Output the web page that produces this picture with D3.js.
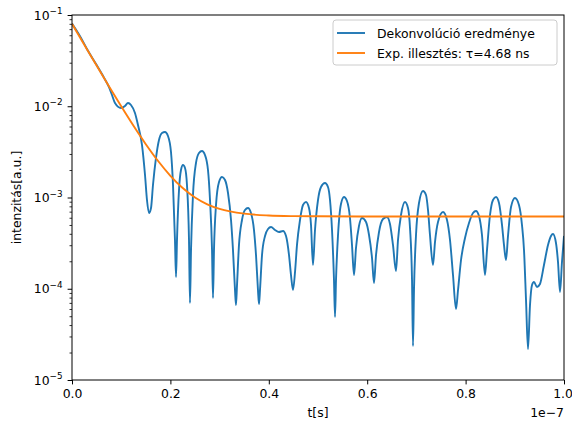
<!DOCTYPE html>
<html>
<head>
<meta charset="utf-8">
<script src="https://cdn.jsdelivr.net/npm/d3@7"></script>
<style>
  html, body { margin: 0; padding: 0; background: #fff; }
  svg { display: block; font-family: "DejaVu Sans", sans-serif; }
</style>
</head>
<body>
<svg id="chart" width="572" height="425"></svg>
<script>
// ---- data (time in ns, intensity in a.u.) ----
const blueT = [0, 1.63, 3.25, 4.88, 6.5, 7.5, 8.13, 8.74, 9.96, 10.77, 11.38, 11.99, 12.8, 13.41, 14.23, 14.84, 15.24, 15.65, 16.06, 16.46, 17.07, 17.68, 18.29, 18.9, 19.51, 20.12, 20.53, 20.93, 21.14, 21.34, 21.75, 22.15, 22.56, 22.97, 23.37, 23.78, 23.98, 24.19, 24.59, 25.2, 25.81, 26.42, 27.03, 27.64, 28.05, 28.46, 28.66, 28.86, 29.27, 29.88, 30.49, 31.1, 31.71, 32.32, 32.72, 33.13, 33.33, 33.54, 33.94, 34.55, 35.16, 35.77, 36.38, 36.99, 37.4, 37.8, 38.01, 38.21, 38.62, 39.23, 39.84, 40.45, 41.26, 42.07, 42.89, 43.5, 44.11, 44.51, 44.92, 45.33, 45.73, 46.34, 46.95, 47.56, 48.17, 48.58, 48.98, 49.39, 50.0, 50.61, 51.42, 52.03, 52.44, 52.85, 53.25, 53.46, 53.66, 54.07, 54.67, 55.28, 55.89, 56.5, 56.91, 57.32, 57.72, 58.33, 58.94, 59.76, 60.37, 60.98, 61.38, 61.79, 62.4, 63.21, 64.02, 64.63, 65.24, 65.85, 66.26, 66.87, 67.68, 68.29, 68.7, 69.11, 69.31, 69.51, 69.92, 70.53, 71.34, 71.95, 72.36, 72.76, 73.37, 73.78, 74.39, 75.41, 76.22, 76.83, 77.44, 78.05, 78.46, 79.07, 79.88, 80.69, 81.5, 82.11, 82.72, 83.33, 83.94, 84.35, 84.96, 85.57, 86.18, 86.79, 87.4, 87.8, 88.21, 88.62, 89.23, 90.04, 90.85, 91.46, 91.87, 92.28, 92.68, 93.09, 93.5, 93.9, 94.51, 95.12, 95.93, 96.75, 97.36, 97.76, 98.37, 98.78, 99.19, 99.59, 100.0];
const blueI = [8.05e-2, 5.85e-2, 4.05e-2, 2.9e-2, 2.06e-2, 1.63e-2, 1.328e-2, 1.085e-2, 9.57e-3, 1.006e-2, 1.085e-2, 1.032e-2, 8.43e-3, 6.23e-3, 3.76e-3, 1.764e-3, 9.39e-4, 6.76e-4, 7.67e-4, 1.371e-3, 2.71e-3, 4.27e-3, 5.09e-3, 5.22e-3, 4.72e-3, 3.15e-3, 1.371e-3, 3.42e-4, 1.345e-4, 3.42e-4, 1.208e-3, 2.001e-3, 2.27e-3, 2.105e-3, 1.371e-3, 3.42e-4, 6.98e-5, 2.66e-4, 1.065e-3, 2.388e-3, 3.07e-3, 3.23e-3, 2.92e-3, 2.001e-3, 9.39e-4, 2.66e-4, 7.92e-5, 2.66e-4, 8.28e-4, 1.479e-3, 1.678e-3, 1.555e-3, 1.12e-3, 5.67e-4, 2.66e-4, 9.69e-5, 6.64e-5, 1.099e-4, 3.02e-4, 5.67e-4, 7.29e-4, 7.67e-4, 6.76e-4, 4.4e-4, 2.343e-4, 9.69e-5, 6.81e-5, 9.69e-5, 2.34e-4, 3.79e-4, 4.52e-4, 4.75e-4, 4.4e-4, 4.19e-4, 4.29e-4, 3.79e-4, 2.34e-4, 1.415e-4, 9.69e-5, 1.526e-4, 3.02e-4, 5.67e-4, 8.28e-4, 8.93e-4, 7.67e-4, 5.0e-4, 1.821e-4, 4.4e-4, 9.39e-4, 1.303e-3, 1.442e-3, 1.303e-3, 9.39e-4, 4.4e-4, 1.247e-4, 4.9e-5, 1.247e-4, 3.88e-4, 8.49e-4, 1.013e-3, 9.15e-4, 5.96e-4, 3.02e-4, 1.415e-4, 2.796e-4, 4.87e-4, 5.96e-4, 5.39e-4, 3.88e-4, 2.173e-4, 1.156e-4, 2.34e-4, 4.19e-4, 5.81e-4, 6.11e-4, 5.12e-4, 3.02e-4, 1.565e-4, 3.42e-4, 6.43e-4, 8.93e-4, 7.67e-4, 4.63e-4, 1.247e-4, 2.358e-5, 9.69e-5, 3.88e-4, 8.7e-4, 1.178e-3, 1.065e-3, 7.29e-4, 3.88e-4, 1.821e-4, 3.25e-4, 5.39e-4, 6.94e-4, 5.67e-4, 3.42e-4, 1.415e-4, 6.0e-5, 9.69e-5, 2.066e-4, 3.6e-4, 5.25e-4, 6.76e-4, 7.11e-4, 6.27e-4, 3.88e-4, 1.415e-4, 2.66e-4, 6.43e-4, 9.39e-4, 1.013e-3, 8.7e-4, 5.0e-4, 3.02e-4, 2.066e-4, 3.79e-4, 7.87e-4, 9.87e-4, 8.28e-4, 5.0e-4, 2.66e-4, 7.53e-5, 2.186e-5, 6.64e-5, 1.099e-4, 1.186e-4, 1.045e-4, 1.127e-4, 1.821e-4, 3.02e-4, 3.79e-4, 3.98e-4, 3.17e-4, 1.965e-4, 9.21e-5, 1.965e-4, 3.79e-4];

const fitT = [0, 2.5, 5, 7.5, 10, 12.5, 15, 17.5, 20, 22.5, 25, 27.5, 30, 35, 40, 45, 50, 60, 80, 100];
const fitI = [8.0e-2, 4.72e-2, 2.79e-2, 1.66e-2, 9.99e-3, 6.11e-3, 3.84e-3, 2.51e-3, 1.73e-3, 1.27e-3, 1.0e-3, 8.43e-4, 7.51e-4, 6.65e-4, 6.35e-4, 6.25e-4, 6.22e-4, 6.2e-4, 6.2e-4, 6.2e-4];

const xTicks = [0, 0.2, 0.4, 0.6, 0.8, 1.0];          // in units of 1e-7 s
const xTickLabels = ["0.0", "0.2", "0.4", "0.6", "0.8", "1.0"];
const yTicks = [1e-1, 1e-2, 1e-3, 1e-4, 1e-5];
const yTickExp = ["−1", "−2", "−3", "−4", "−5"];
const seriesNames = ["Dekonvolúció eredménye", "Exp. illesztés: τ=4.68 ns"];
const colors = ["#1f77b4", "#ff7f0e"];

// ---- layout ----
const W = 572, H = 425;
const L = 72, R = 564, T = 15, B = 380;
const svg = d3.select("#chart");

const x = d3.scaleLinear().domain([0, 1e-7]).range([L, R]);
const y = d3.scaleLog().domain([1e-5, 1e-1]).range([B, T]);

svg.append("defs").append("clipPath").attr("id", "clip")
  .append("rect").attr("x", L).attr("y", T).attr("width", R - L).attr("height", B - T);

const line = d3.line()
  .x(d => x(d[0] * 1e-9))
  .y(d => y(d[1]))
  .curve(d3.curveMonotoneX);

const g = svg.append("g").attr("clip-path", "url(#clip)");
g.append("path")
  .datum(blueT.map((t, i) => [t, blueI[i]]))
  .attr("d", line).attr("fill", "none")
  .attr("stroke", colors[0]).attr("stroke-width", 1.9).attr("stroke-linejoin", "round");
g.append("path")
  .datum(fitT.map((t, i) => [t, fitI[i]]))
  .attr("d", line).attr("fill", "none")
  .attr("stroke", colors[1]).attr("stroke-width", 1.9).attr("stroke-linejoin", "round");

// ---- axes ----
const xAxis = d3.axisBottom(x)
  .tickValues(xTicks.map(v => v * 1e-7))
  .tickFormat((d, i) => xTickLabels[i])
  .tickSizeInner(4.4).tickSizeOuter(0).tickPadding(4.3);
const gx = svg.append("g").attr("transform", `translate(0,${B})`).call(xAxis);
gx.select(".domain").remove();
gx.selectAll("line").attr("stroke", "#000").attr("stroke-width", 1);
gx.selectAll("text").attr("font-size", 12.4).attr("fill", "#000")
  .attr("font-family", "DejaVu Sans")
  .attr("dx", (d, i) => i === xTicks.length - 1 ? -1.5 : 0);

// minor y ticks
const minor = [];
for (let e = -5; e < -1; e++) for (let m = 2; m <= 9; m++) minor.push(m * Math.pow(10, e));
const yMinor = d3.axisLeft(y).tickValues(minor).tickFormat("").tickSizeInner(2.5).tickSizeOuter(0);
const gym = svg.append("g").attr("transform", `translate(${L},0)`).call(yMinor);
gym.select(".domain").remove();
gym.selectAll("line").attr("stroke", "#000").attr("stroke-width", 0.8);

const yAxis = d3.axisLeft(y).tickValues(yTicks).tickFormat("").tickSizeInner(4.4).tickSizeOuter(0);
const gy = svg.append("g").attr("transform", `translate(${L},0)`).call(yAxis);
gy.select(".domain").remove();
gy.selectAll("line").attr("stroke", "#000").attr("stroke-width", 1);

// y tick labels with superscripts
yTicks.forEach((v, i) => {
  const t = svg.append("text")
    .attr("x", 62.5).attr("y", y(v) + 4.5)
    .attr("text-anchor", "end")
    .attr("font-size", 12.4).attr("fill", "#000");
  t.append("tspan").text("10");
  t.append("tspan").attr("font-size", 8.8).attr("dy", -5.5).text(yTickExp[i]);
});

// frame
svg.append("rect").attr("x", L).attr("y", T).attr("width", R - L).attr("height", B - T)
  .attr("fill", "none").attr("stroke", "#000").attr("stroke-width", 1);

// labels
svg.append("text").attr("x", (L + R) / 2).attr("y", 417)
  .attr("text-anchor", "middle").attr("font-size", 12.4).text("t[s]");
svg.append("text").attr("x", R).attr("y", 417)
  .attr("text-anchor", "end").attr("font-size", 12.4).text("1e−7");
svg.append("text").attr("transform", `translate(21,${(T + B) / 2}) rotate(-90)`)
  .attr("text-anchor", "middle").attr("font-size", 12.4).text("intenzitás[a.u.]");

// legend
const lg = svg.append("g");
lg.append("rect").attr("x", 333).attr("y", 20).attr("width", 224).attr("height", 45)
  .attr("rx", 3).attr("fill", "#fff").attr("fill-opacity", 0.8)
  .attr("stroke", "#cccccc").attr("stroke-width", 1);
seriesNames.forEach((name, i) => {
  const yy = 33 + i * 20;
  lg.append("line").attr("x1", 337).attr("x2", 365).attr("y1", yy).attr("y2", yy)
    .attr("stroke", colors[i]).attr("stroke-width", 1.9);
  lg.append("text").attr("x", 377).attr("y", yy + 4.5)
    .attr("font-size", 12.4).attr("fill", "#000").text(name);
});
</script>
</body>
</html>
